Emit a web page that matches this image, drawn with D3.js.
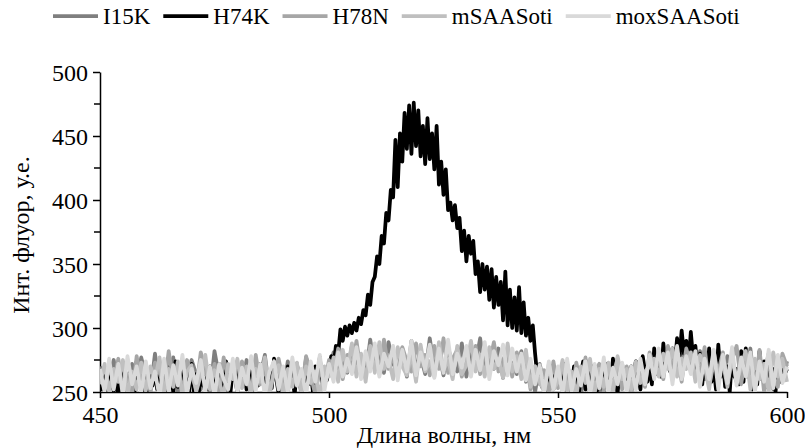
<!DOCTYPE html>
<html>
<head>
<meta charset="utf-8">
<script src="https://cdn.jsdelivr.net/npm/d3@7"></script>
<style>
  body { margin: 0; background: #fff; }
  text { font-family: "Liberation Serif", "Times New Roman", serif; fill: #000; }
</style>
</head>
<body>
<svg id="chart" width="805" height="448"></svg>
<script>
// wavelength grids (nm)
var startNm = 450;
var stepGray = 1;     // I15K, H78N, mSAASoti, moxSAASoti
var stepH74K = 0.5;   // H74K was sampled finer
var seriesNames = ["I15K", "H74K", "H78N", "mSAASoti", "moxSAASoti"];
var seriesColors = ["#7f7f7f", "#000000", "#a6a6a6", "#bfbfbf", "#d9d9d9"];
var yTicks = [250, 300, 350, 400, 450, 500];
var yMinorTicks = [275, 325, 375, 425, 475];
var xTicks = [450, 500, 550, 600];

var I15K = [
  270, 249, 262, 275, 252, 266, 247, 272, 256, 277,
  263, 250, 280, 254, 270, 263, 277, 248, 268, 258,
  275, 264, 252, 270, 249, 282, 262, 268, 248, 273,
  266, 255, 275, 247, 270, 263, 279, 251, 265, 272,
  250, 274, 261, 268, 248, 277, 265, 253, 273, 262,
  268, 281, 262, 278, 265, 286, 270, 276, 262, 291,
  268, 282, 265, 289, 272, 266, 284, 262, 290, 270,
  278, 264, 292, 268, 280, 263, 285, 271, 266, 288,
  262, 282, 272, 292, 265, 279, 268, 284, 261, 277,
  272, 264, 282, 258, 268, 250, 272, 256, 252, 270,
  264, 250, 272, 255, 268, 247, 275, 258, 270, 251,
  272, 264, 252, 276, 258, 269, 250, 274, 256, 268,
  262, 280, 272, 266, 283, 275, 268, 286, 270, 278,
  266, 282, 260, 275, 270, 283, 262, 278, 268, 258,
  279, 262, 284, 254, 272, 264, 280, 252, 276, 258,
  274
];
var H74K = [
  262, 252, 268, 247, 270, 256, 251, 264, 245, 258,
  272, 256, 249, 266, 254, 248, 274, 257, 268, 250,
  270, 246, 263, 255, 268, 252, 272, 256, 266, 246,
  270, 262, 250, 274, 254, 266, 248, 270, 260, 251,
  272, 251, 264, 246, 268, 255, 262, 252, 270, 255,
  266, 247, 272, 264, 254, 274, 258, 250, 268, 262,
  249, 266, 256, 270, 252, 261, 275, 250, 264, 255,
  272, 258, 262, 248, 266, 253, 276, 260, 249, 268,
  262, 251, 270, 256, 265, 247, 272, 258, 263, 251,
  274, 256, 266, 250, 270, 262, 277, 255, 268, 259,
  268, 278, 270, 286, 280, 299, 290, 301, 294, 302,
  296, 304, 298, 308, 303, 314, 310, 326, 318, 336,
  340, 356, 350, 372, 366, 390, 384, 408, 402, 447,
  410, 452, 430, 468, 440, 474, 436, 476, 442, 470,
  434, 458, 428, 464, 432, 452, 424, 458, 412, 430,
  404, 424, 392, 398, 384, 396, 378, 386, 360, 376,
  352, 372, 358, 368, 342, 352, 328, 350, 330, 348,
  322, 346, 316, 340, 318, 336, 306, 344, 302, 330,
  300, 324, 298, 332, 296, 320, 294, 308, 290, 302,
  280, 262, 270, 254, 266, 250, 262, 270, 252, 264,
  256, 268, 250, 272, 249, 262, 254, 270, 258, 247,
  264, 274, 252, 266, 248, 270, 260, 251, 268, 256,
  250, 272, 262, 254, 276, 258, 249, 266, 272, 255,
  262, 248, 270, 256, 274, 262, 252, 278, 266, 258,
  270, 256, 284, 264, 276, 262, 288, 270, 278, 266,
  284, 270, 292, 276, 298, 280, 290, 272, 297, 276,
  286, 266, 280, 256, 276, 262, 284, 258, 270, 252,
  287, 262, 276, 254, 270, 250, 278, 262, 268, 256,
  282, 258, 284, 262, 270, 252, 266, 256, 282, 260,
  274, 254, 272, 262, 268, 250, 276, 258, 270, 264,
  268
];
var H78N = [
  265, 252, 270, 258, 276, 250, 264, 247, 278, 258,
  268, 250, 273, 265, 253, 282, 258, 270, 249, 275,
  263, 252, 281, 267, 255, 272, 248, 277, 259, 268,
  252, 274, 264, 248, 279, 256, 270, 247, 268, 276,
  258, 249, 271, 265, 251, 278, 263, 248, 269, 256,
  275, 263, 284, 260, 279, 268, 290, 265, 276, 270,
  282, 264, 291, 268, 278, 262, 285, 274, 266, 288,
  270, 279, 263, 286, 268, 292, 265, 276, 283, 262,
  277, 269, 286, 264, 281, 272, 289, 266, 275, 283,
  262, 281, 269, 276, 252, 270, 256, 267, 248, 274,
  253, 270, 264, 249, 273, 256, 277, 250, 266, 272,
  250, 268, 263, 276, 252, 270, 248, 273, 265, 254,
  281, 268, 274, 260, 286, 270, 278, 258, 284, 272,
  276, 262, 285, 255, 272, 266, 281, 258, 275, 286,
  256, 279, 270, 252, 283, 250, 276, 262, 254, 280,
  270
];
var mSAASoti = [
  256, 272, 250, 268, 258, 275, 248, 266, 252, 273,
  251, 270, 260, 277, 248, 268, 254, 274, 246, 266,
  271, 250, 263, 279, 252, 267, 258, 247, 272, 260,
  276, 253, 270, 248, 268, 258, 277, 249, 265, 271,
  247, 268, 254, 273, 249, 270, 257, 266, 246, 270,
  262, 277, 258, 283, 266, 288, 262, 280, 258, 286,
  265, 289, 268, 276, 260, 285, 270, 263, 280, 258,
  287, 266, 274, 262, 289, 267, 275, 260, 286, 264,
  271, 290, 266, 279, 262, 285, 268, 276, 261, 288,
  266, 278, 260, 283, 254, 270, 258, 250, 272, 252,
  258, 275, 250, 266, 247, 270, 257, 276, 249, 268,
  254, 273, 248, 278, 260, 268, 252, 274, 257, 266,
  270, 276, 262, 280, 268, 284, 262, 276, 268, 281,
  258, 279, 270, 252, 282, 262, 273, 254, 278, 258,
  270, 282, 252, 276, 260, 272, 250, 281, 262, 276,
  258
];
var moxSAASoti = [
  268, 250, 276, 252, 272, 247, 278, 256, 270, 249,
  274, 253, 266, 246, 276, 251, 271, 255, 279, 248,
  268, 257, 275, 250, 270, 246, 272, 260, 252, 276,
  249, 269, 256, 278, 251, 272, 247, 266, 274, 252,
  270, 250, 277, 255, 268, 247, 274, 258, 279, 251,
  272, 258, 281, 262, 276, 264, 285, 260, 282, 266,
  288, 262, 280, 270, 286, 259, 283, 266, 290, 263,
  281, 268, 287, 261, 284, 265, 291, 264, 280, 269,
  286, 262, 283, 267, 289, 260, 282, 271, 287, 263,
  284, 266, 280, 259, 276, 256, 271, 250, 274, 252,
  270, 248, 276, 251, 268, 255, 274, 247, 272, 253,
  277, 250, 269, 256, 273, 249, 270, 252, 276, 256,
  279, 260, 284, 262, 281, 256, 286, 260, 278, 264,
  282, 254, 276, 260, 283, 252, 279, 257, 285, 255,
  277, 262, 281, 250, 274, 258, 283, 253, 279, 257,
  270
];
var seriesValues = [I15K, H74K, H78N, mSAASoti, moxSAASoti];
var seriesSteps = [stepGray, stepH74K, stepGray, stepGray, stepGray];

var svg = d3.select("#chart");
var margin = { top: 72, right: 18, bottom: 56, left: 100 };
var width = 805 - margin.left - margin.right;
var height = 448 - margin.top - margin.bottom;

var x = d3.scaleLinear().domain([450, 600]).range([margin.left, margin.left + width]);
var y = d3.scaleLinear().domain([250, 500]).range([margin.top + height, margin.top]);

svg.append("defs").append("clipPath").attr("id", "plotclip")
  .append("rect")
  .attr("x", margin.left).attr("y", margin.top)
  .attr("width", width + 2).attr("height", height);

// x axis
var xAxis = svg.append("g")
  .attr("transform", "translate(0," + (margin.top + height) + ")")
  .call(d3.axisBottom(x).tickValues(xTicks).tickSize(6).tickSizeOuter(0).tickPadding(8));
xAxis.selectAll("text").style("font-size", "24px");

// y axis
var yAxis = svg.append("g")
  .attr("transform", "translate(" + margin.left + ",0)")
  .call(d3.axisLeft(y).tickValues(yTicks).tickSize(7).tickSizeOuter(0).tickPadding(5));
yAxis.selectAll("text").style("font-size", "24px").attr("dy", "0.34em");
yAxis.append("g").selectAll("line").data(yMinorTicks).enter().append("line")
  .attr("x1", -6).attr("x2", 0)
  .attr("y1", function (d) { return y(d); }).attr("y2", function (d) { return y(d); })
  .attr("stroke", "#000");
svg.selectAll(".domain, .tick line").attr("stroke", "#000").attr("stroke-width", 1.5);
yAxis.selectAll("line").attr("stroke-width", 1.5);

// series, lightest drawn last
var plot = svg.append("g").attr("clip-path", "url(#plotclip)");
seriesValues.forEach(function (vals, i) {
  var line = d3.line()
    .x(function (d, j) { return x(startNm + j * seriesSteps[i]); })
    .y(function (d) { return y(d); });
  plot.append("path")
    .datum(vals)
    .attr("fill", "none")
    .attr("stroke", seriesColors[i])
    .attr("stroke-width", 3.75)
    .attr("stroke-linejoin", "round")
    .attr("d", line);
});

// titles
svg.append("text")
  .attr("x", 444).attr("y", 443)
  .attr("text-anchor", "middle")
  .style("font-size", "24px")
  .text("Длина волны, нм");

svg.append("text")
  .attr("transform", "translate(29,235) rotate(-90)")
  .attr("text-anchor", "middle")
  .style("font-size", "24px")
  .text("Инт. флуор, у.е.");

// legend
var legend = svg.append("g").attr("transform", "translate(53,16)");
var lx = 0;
seriesNames.forEach(function (name, i) {
  legend.append("line")
    .attr("x1", lx).attr("x2", lx + 45)
    .attr("y1", 0).attr("y2", 0)
    .attr("stroke", seriesColors[i])
    .attr("stroke-width", 3.75);
  var t = legend.append("text")
    .attr("x", lx + 50).attr("y", 8)
    .style("font-size", "23px")
    .text(name);
  lx += 50 + t.node().getComputedTextLength() + 13;
});
</script>
</body>
</html>
